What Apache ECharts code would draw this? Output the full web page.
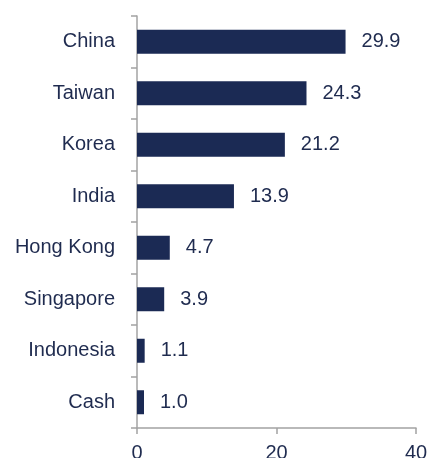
<!DOCTYPE html>
<html>
<head>
<meta charset="utf-8">
<script src="https://cdn.jsdelivr.net/npm/echarts@6/dist/echarts.min.js"></script>
<style>
html,body{margin:0;padding:0;background:#fff;overflow:hidden;}
#c{width:429px;height:458px;}
</style>
</head>
<body>
<div id="c"></div>
<script>
var categories = ["China", "Taiwan", "Korea", "India", "Hong Kong", "Singapore", "Indonesia", "Cash"];
var values = [29.9, 24.3, 21.2, 13.9, 4.7, 3.9, 1.1, 1.0];
var xTicks = [0, 20, 40];

var textColor = "#1f2b4f";
var axisColor = "#a3a3a3";
var chart = echarts.init(document.getElementById('c'));
chart.setOption({
  animation: false,
  backgroundColor: "#ffffff",
  grid: { left: 137, right: 13, top: 16, bottom: 30, containLabel: false, outerBoundsMode: 'none' },
  xAxis: {
    type: 'value',
    min: xTicks[0], max: xTicks[xTicks.length - 1], interval: xTicks[1] - xTicks[0],
    splitLine: { show: false },
    axisLine: { show: true, lineStyle: { color: axisColor, width: 1.5 } },
    axisTick: { show: true, length: 6, lineStyle: { color: axisColor, width: 1.5 } },
    axisLabel: { color: textColor, fontSize: 20, fontFamily: "Liberation Sans, Arial, sans-serif", margin: 15 }
  },
  yAxis: {
    type: 'category',
    data: categories,
    inverse: true,
    axisLine: { show: true, lineStyle: { color: axisColor, width: 1.5 } },
    axisTick: { show: true, length: 6, alignWithLabel: false, lineStyle: { color: axisColor, width: 1.5 } },
    axisLabel: { color: textColor, fontSize: 20, fontFamily: "Liberation Sans, Arial, sans-serif", margin: 22 }
  },
  series: [{
    type: 'bar',
    data: values,
    barWidth: 24,
    itemStyle: { color: "#1b2a54" },
    label: {
      show: true, position: 'right', distance: 16,
      color: textColor, fontSize: 20, fontFamily: "Liberation Sans, Arial, sans-serif",
      formatter: function (p) { return p.value.toFixed(1); }
    }
  }]
});
</script>
</body>
</html>
